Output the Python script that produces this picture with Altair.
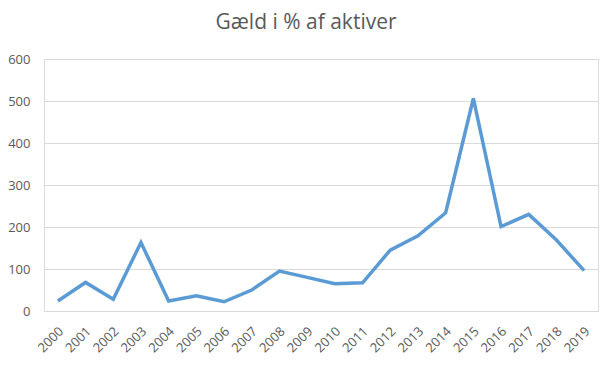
import altair as alt
import pandas as pd

years = [str(y) for y in range(2000, 2020)]
values = [24, 68, 28, 163, 24, 36, 22, 50, 95, 80, 65, 67, 145, 179, 234, 506, 201, 230, 169, 96]

df = pd.DataFrame({"year": years, "value": values})

FONT = "Open Sans"

chart = alt.Chart(df).mark_line(color="#5B9BD5", strokeWidth=3.5, strokeJoin="miter").encode(
    x=alt.X("year:O", title=None, sort=years,
            scale=alt.Scale(padding=0.5),
            axis=alt.Axis(labelAngle=-45, labelAlign="right", labelBaseline="middle",
                          labelPadding=18, labelOffset=3, ticks=False, domain=False, grid=False,
                          labelColor="#595959", labelFontSize=13, labelFont=FONT)),
    y=alt.Y("value:Q", title=None, scale=alt.Scale(domain=[0, 600], nice=False),
            axis=alt.Axis(values=[0, 100, 200, 300, 400, 500, 600], ticks=False, domain=False,
                          gridColor="#D9D9D9", gridWidth=1, labelPadding=14,
                          labelColor="#595959", labelFontSize=13, labelFont=FONT)),
).properties(
    width=554, height=252,
    title=alt.TitleParams("Gæld i % af aktiver", fontSize=21, font=FONT, fontWeight="normal",
                          color="#595959", anchor="middle", dx=-15, offset=20),
    autosize=alt.AutoSizeParams(type="none"),
    padding={"left": 44, "top": 59, "right": 18, "bottom": 55},
).configure_view(stroke=None).configure(background="white")

chart.save("out.html", embed_options={"renderer": "svg", "actions": False})
